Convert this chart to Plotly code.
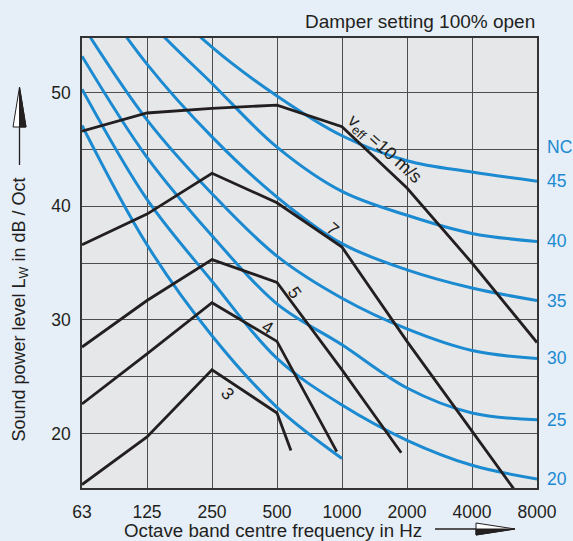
import numpy as np
import plotly.graph_objects as go

# ---------------- data ----------------
freqs = [62.5, 125, 250, 500, 1000, 2000, 4000, 8000]
freq_labels = ["63", "125", "250", "500", "1000", "2000", "4000", "8000"]

# NC curves (blue)
nc45 = [67.0, 59.5, 54.0, 49.7, 46.2, 44.0, 43.0, 42.2]
nc40 = [64.0, 56.5, 50.8, 45.2, 41.3, 39.2, 37.6, 36.9]
nc35 = [60.5, 52.5, 46.1, 40.8, 36.7, 34.4, 32.8, 31.7]
nc30 = [56.0, 47.6, 41.1, 35.6, 31.9, 29.2, 27.3, 26.6]
nc25 = [53.2, 44.3, 37.4, 31.4, 27.8, 24.0, 21.8, 21.2]
nc20 = [50.3, 40.6, 33.4, 26.6, 22.5, 19.4, 17.2, 16.0]
nc15_freqs = [62.5, 125, 250, 500, 1000]
nc15 = [47.1, 36.6, 28.6, 22.3, 17.8]
nc_labels = ["45", "40", "35", "30", "25", "20"]

# sound power lines (black), v_eff in m/s
v10_freqs = [62.5, 125, 250, 500, 1000, 2000, 4000, 8000]
v10 = [46.6, 48.2, 48.6, 48.9, 47.0, 41.6, 35.0, 28.0]
v7_freqs = [62.5, 125, 250, 500, 1000, 2000, 4000, 8000]
v7 = [36.6, 39.3, 42.9, 40.3, 36.4, 28.1, 20.2, 12.3]
v5_freqs = [62.5, 125, 250, 500, 1000, 1880]
v5 = [27.6, 31.7, 35.3, 33.3, 25.6, 18.3]
v4_freqs = [62.5, 125, 250, 500, 946]
v4 = [22.6, 27.0, 31.5, 28.1, 18.4]
v3_freqs = [62.5, 125, 250, 500, 580]
v3 = [15.5, 19.7, 25.6, 21.8, 18.5]

# ---------------- style ----------------
BLUE = "#1b8ad1"
BLACK = "#231f20"
GRID = "#4d4d4d"
PLOT_BG = "#e6e7e9"
PAPER_BG = "#e6eef8"
FONT = "Liberation Sans, Arial, sans-serif"

W, H = 573, 541
L, R, T, B = 82, 36, 38, 53
PW, PH = W - L - R, H - T - B


def px(x):
    return (x - L) / PW


def py(y):
    return (H - B - y) / PH


fig = go.Figure()

nc_series = [nc45, nc40, nc35, nc30, nc25, nc20]
for s in nc_series:
    fig.add_trace(go.Scatter(x=freqs, y=s, mode="lines",
                             line=dict(color=BLUE, width=3, shape="spline", smoothing=1.0),
                             hoverinfo="skip", showlegend=False))
fig.add_trace(go.Scatter(x=nc15_freqs, y=nc15, mode="lines",
                         line=dict(color=BLUE, width=3, shape="spline", smoothing=1.0),
                         hoverinfo="skip", showlegend=False))

for fx, fy in [(v10_freqs, v10), (v7_freqs, v7), (v5_freqs, v5), (v4_freqs, v4), (v3_freqs, v3)]:
    fig.add_trace(go.Scatter(x=fx, y=fy, mode="lines",
                             line=dict(color=BLACK, width=2.8),
                             hoverinfo="skip", showlegend=False))

annotations = []
# NC labels on the right
for lab, s in zip(nc_labels, nc_series):
    annotations.append(dict(x=px(545), xref="paper", y=s[-1], yref="y", text=lab,
                            showarrow=False, xanchor="left", yanchor="middle",
                            font=dict(color=BLUE, size=17.5, family=FONT)))
annotations.append(dict(x=px(545), xref="paper", y=nc45[-1], yref="y", yshift=34, text="NC",
                        showarrow=False, xanchor="left", yanchor="middle",
                        font=dict(color=BLUE, size=17.5, family=FONT)))

# line labels
line_labels = [
    ("v<sub>eff</sub> =10 m/s", 1560, 45.0, 42, 18),
    ("7", 905, 38.0, 40, 17.5),
    ("5", 607, 32.4, 55, 17.5),
    ("4", 452, 29.4, 30, 17.5),
    ("3", 297, 23.5, 50, 17.5),
]
for txt, f, lv, ang, fs in line_labels:
    annotations.append(dict(x=np.log10(f), y=lv, xref="x", yref="y", text=txt,
                            showarrow=False, textangle=ang,
                            xanchor="center", yanchor="middle",
                            font=dict(color=BLACK, size=fs, family=FONT)))

# titles
annotations.append(dict(x=px(19.5), y=py(310), xref="paper", yref="paper",
                        text="Sound power level L<sub>W</sub> in dB / Oct", textangle=-90,
                        xanchor="center", yanchor="middle",
                        showarrow=False, font=dict(color=BLACK, size=18, family=FONT)))
annotations.append(dict(x=px(272.5), y=py(530), xref="paper", yref="paper",
                        text="Octave band centre frequency in Hz",
                        xanchor="center", yanchor="middle",
                        showarrow=False, font=dict(color=BLACK, size=18.7, family=FONT)))
annotations.append(dict(x=px(537), y=py(22), xref="paper", yref="paper",
                        text="Damper setting 100% open", xanchor="right", yanchor="middle",
                        showarrow=False, font=dict(color=BLACK, size=19, family=FONT)))

shapes = []
# background patches behind labels (hide grid lines only)
for x0, x1, y0, y1 in [(259, 284, 313, 338), (328, 352, 216, 243), (336, 350, 104, 140),
                       (362, 404, 142, 155)]:
    shapes.append(dict(type="rect", xref="paper", yref="paper", x0=px(x0), x1=px(x1),
                       y0=py(y1), y1=py(y0), fillcolor=PLOT_BG, line=dict(width=0),
                       layer="between"))

# y-title arrow
shapes.append(dict(type="line", xref="paper", yref="paper", x0=px(19.5), x1=px(19.5),
                   y0=py(165), y1=py(126), line=dict(color=BLACK, width=1.3)))
shapes.append(dict(type="path", xref="paper", yref="paper",
                   path=f"M {px(19.5)} {py(87)} L {px(13)} {py(127)} L {px(26)} {py(127)} Z",
                   fillcolor="white", line=dict(color=BLACK, width=1)))
shapes.append(dict(type="path", xref="paper", yref="paper",
                   path=f"M {px(19.5)} {py(87)} L {px(26)} {py(127)} L {px(19.5)} {py(127)} Z",
                   fillcolor=BLACK, line=dict(color=BLACK, width=1)))
# x-title arrow
shapes.append(dict(type="line", xref="paper", yref="paper", x0=px(435), x1=px(477),
                   y0=py(529), y1=py(529), line=dict(color=BLACK, width=1.3)))
shapes.append(dict(type="path", xref="paper", yref="paper",
                   path=f"M {px(515)} {py(529)} L {px(476)} {py(523)} L {px(476)} {py(535)} Z",
                   fillcolor="white", line=dict(color=BLACK, width=1)))
shapes.append(dict(type="path", xref="paper", yref="paper",
                   path=f"M {px(515)} {py(529)} L {px(476)} {py(535)} L {px(476)} {py(529)} Z",
                   fillcolor=BLACK, line=dict(color=BLACK, width=1)))

fig.update_layout(
    width=W, height=H,
    margin=dict(l=L, r=R, t=T, b=B, pad=0),
    paper_bgcolor=PAPER_BG, plot_bgcolor=PLOT_BG,
    font=dict(family=FONT, color=BLACK, size=17.5),
    showlegend=False,
    annotations=annotations,
    shapes=shapes,
    xaxis=dict(type="log", range=[np.log10(62.5), np.log10(8000)],
               tickvals=freqs, ticktext=freq_labels, ticks="", ticklabelstandoff=7,
               showgrid=True, gridcolor=GRID, gridwidth=1.3,
               showline=True, linecolor="#333333", linewidth=1.5, mirror=True,
               zeroline=False, tickfont=dict(size=17.5, color=BLACK)),
    yaxis=dict(range=[15.2, 54.8], tickvals=[20, 30, 40, 50], ticks="",
               ticklabelstandoff=6,
               showgrid=True, gridcolor=GRID, gridwidth=1.3,
               minor=dict(tickvals=[25, 35, 45], showgrid=True, gridcolor=GRID, gridwidth=1.3),
               showline=True, linecolor="#333333", linewidth=1.5, mirror=True,
               zeroline=False, tickfont=dict(size=17.5, color=BLACK)),
)

fig.write_html("out.html",
               config={"displayModeBar": False},
               post_script="document.body.style.margin='0';document.body.style.padding='0';"
                           "document.body.style.overflow='hidden';")
